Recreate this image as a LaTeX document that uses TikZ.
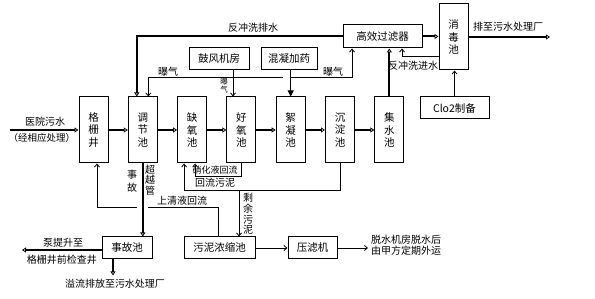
\documentclass[tikz,border=0pt]{standalone}
\usepackage{fontspec}
\setmainfont{Noto Sans CJK SC}
\usepackage{tikz}
\usetikzlibrary{arrows.meta, positioning}
\tikzset{
  tank/.style={rectangle, draw, line width=1pt, minimum width=29pt,
    minimum height=66pt, inner sep=0pt, align=center,
    font=\fontsize{10.5}{12.5}\selectfont},
  unit/.style={rectangle, draw, line width=1pt, minimum height=22pt,
    inner sep=0pt, align=center, font=\fontsize{10.5}{12}\selectfont},
  lbl/.style={inner sep=0pt, align=center, font=\fontsize{10}{11}\selectfont},
  flow/.style={-{Triangle[open, length=4pt, width=5pt, line width=0.8pt]},
    line width=2pt},
  arrow/.style={-{Straight Barb[length=3pt, width=5pt]}, line width=0.8pt},
  line/.style={line width=0.8pt}
}

\begin{document}
\begin{tikzpicture}[x=1pt, y=-1pt, node distance=19.3pt]
  \useasboundingbox (0,0) rectangle (595,299);

  % Main treatment line
  \node[tank] (gsj) at (93.5,130) {格\\栅\\井};
  \node[tank, right=of gsj] (tjc) {调\\节\\池};
  \node[tank, right=of tjc] (qyc) {缺\\氧\\池};
  \node[tank, right=of qyc] (hyc) {好\\氧\\池};
  \node[tank, right=of hyc] (xnc) {絮\\凝\\池};
  \node[tank, right=of xnc] (cdc) {沉\\淀\\池};
  \node[tank, right=of cdc] (jsc) {集\\水\\池};

  % Filtration and disinfection
  \node[unit, minimum width=79pt, minimum height=23pt] (glq) at (382.5,36.5) {高效过滤器};
  \node[tank] (xdc) at (453.5,37) {消\\毒\\池};
  \node[unit, minimum width=69pt] (clo) at (454.5,108) {Clo2制备};

  % Air and dosing
  \node[unit, minimum width=60pt] (gfj) at (219,59) {鼓风机房};
  \node[unit, minimum width=56pt] (hnjy) at (289,59) {混凝加药};

  % Accident and sludge
  \node[unit, minimum width=50pt] (sgc) at (127,248) {事故池};
  \node[unit, minimum width=71pt] (wnnsc) at (219.5,248) {污泥浓缩池};
  \node[unit, minimum width=49pt] (ylj) at (312.5,248) {压滤机};

  % Labels
  \node[lbl] (lyy) at (45,122) {医院污水};
  \node[lbl, font=\fontsize{9.5}{11}\selectfont] (lxy) at (42,138) {（经相应处理）};
  \node[lbl] (lfp) at (253,28) {反冲洗排水};
  \node[lbl] (lpz) at (508,27) {排至污水处理厂};
  \node[lbl] (lfj) at (413,66) {反冲洗进水};
  \node[lbl] (lbq1) at (168,72) {曝气};
  \node[lbl] (lbq2) at (333,72) {曝气};
  \node[lbl, font=\fontsize{7.5}{8}\selectfont] (lbq3) at (224,86) {曝\\气};
  \node[lbl, font=\fontsize{9}{10}\selectfont] (lxh) at (215,170) {硝化液回流};
  \node[lbl] (lhl) at (215,183) {回流污泥};
  \node[lbl] (lsq) at (182,201) {上清液回流};
  \node[lbl, font=\fontsize{10}{13}\selectfont] (lsg) at (132,181) {事\\故};
  \node[lbl, font=\fontsize{10}{10.5}\selectfont] (lcy) at (150,180) {超\\越\\管};
  \node[lbl, font=\fontsize{10}{10.7}\selectfont] (lsy) at (248,214) {剩\\余\\污\\泥};
  \node[lbl] (lbt1) at (63,243) {泵提升至};
  \node[lbl] (lbt2) at (62,260) {格栅井前检查井};
  \node[lbl] (lyl) at (115,284) {溢流排放至污水处理厂};
  \node[lbl, align=left] (ltw) at (406,245) {脱水机房脱水后\\由甲方定期外运};

  % Main flow
  \coordinate (src) at (10,130);
  \draw[flow] (src) -- (gsj);
  \foreach \a/\b in {gsj/tjc, tjc/qyc, qyc/hyc, hyc/xnc, xnc/cdc, cdc/jsc}
    \draw[flow] (\a) -- (\b);

  % Filter, disinfection, discharge
  \draw[flow] (jsc.north) -- (jsc.north |- glq.south);
  \draw[flow] (glq.east) -- (glq.east -| xdc.west);
  \coordinate (dst) at (550,37);
  \draw[flow] (xdc.east |- dst) -- (dst);
  \draw[flow] (glq.west) -| ([xshift=-6pt]tjc.north);
  \draw[arrow] (clo.north) -- (clo.north |- xdc.south);
  \coordinate (bw) at (439,56);
  \draw[arrow] (xdc.west |- bw) -| ([xshift=19.5pt]glq.south);

  % Aeration
  \coordinate (aer) at (233,77);
  \draw[arrow] ([xshift=14pt]gfj.south) -- ([xshift=14pt]gfj.south |- hyc.north);
  \draw[arrow] (aer) -| ([xshift=5.5pt]tjc.north);
  \coordinate (gapa) at (283,77);
  \coordinate (gapb) at (291,77);
  \draw[line] (aer) -- (gapa);
  \draw[arrow] (gapb) -| ([xshift=-30.5pt]glq.south);
  \draw[line, -{Triangle[length=6pt, width=6pt]}] (hnjy.south -| xnc.north) -- (xnc.north);

  % Return flows
  \draw[arrow] (hyc.south) -- ++(0,13) -| ([xshift=3pt]qyc.south);
  \draw[arrow] (cdc.south) -- ++(0,27) -| ([xshift=-8pt]qyc.south);
  \coordinate (sl) at (239,190);
  \draw[arrow] (sl) -- (sl |- wnnsc.north);
  \coordinate (gapr) at (148,207);
  \coordinate (gapl) at (137,207);
  \draw[line] ([xshift=-1.5pt]wnnsc.north) |- (gapr);
  \draw[arrow] (gapl) -| ([xshift=3.5pt]gsj.south);

  % Accident tank
  \draw[flow] (tjc.south) -- (tjc.south |- sgc.north);
  \coordinate (pump) at (22,250);
  \draw[flow] (sgc.west |- pump) -- (pump);
  \draw[flow] ([xshift=-14pt]sgc.south) -- ++(0,16);

  % Sludge
  \draw[arrow] (wnnsc) -- (ylj);
  \coordinate (cake) at (368,248);
  \draw[arrow] (ylj.east) -- (cake);
\end{tikzpicture}
\end{document}
